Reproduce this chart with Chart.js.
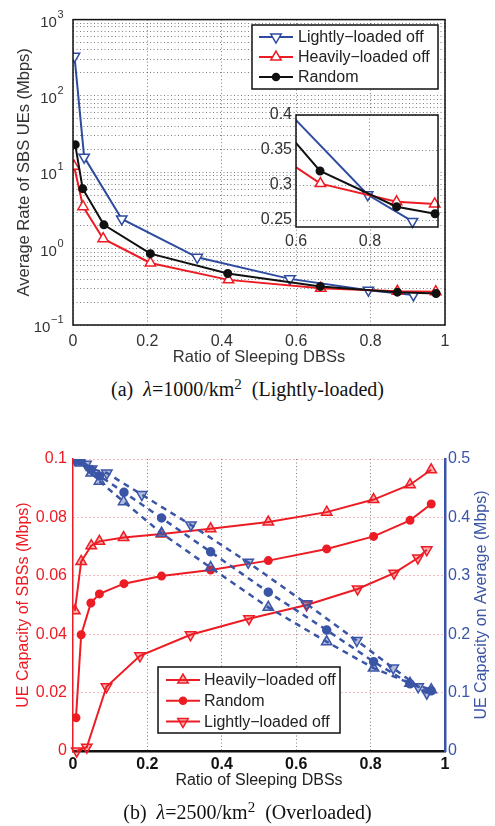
<!DOCTYPE html>
<html>
<head>
<meta charset="utf-8">
<script src="https://cdn.jsdelivr.net/npm/chart.js@4.4.1/dist/chart.umd.min.js"></script>
<style>
  body { margin: 0; background: #fff; width: 495px; height: 826px; position: relative; overflow: hidden; }
  canvas { position: absolute; }
  .cap { position: absolute; left: 0; width: 495px; text-align: center; font-family: "Liberation Serif", "DejaVu Serif", serif; font-size: 20px; color: #111; white-space: pre; }
  .cap sup { font-size: 15px; vertical-align: 7px; line-height: 0; }
</style>
</head>
<body>
<canvas id="chartA" width="495" height="372" style="left:0;top:0"></canvas>
<canvas id="inset" width="210" height="150" style="left:240px;top:100px"></canvas>
<div class="cap" style="top:378px">(a)  <i>λ</i>=1000/km<sup>2</sup>  (Lightly-loaded)</div>
<canvas id="chartB" width="495" height="380" style="left:0;top:420px"></canvas>
<div class="cap" style="top:801px">(b)  <i>λ</i>=2500/km<sup>2</sup>  (Overloaded)</div>
<script>
// ---- (a) lambda = 1000/km^2, average rate of SBS UEs (Mbps), log scale
const lightX_a = [0.004, 0.03, 0.131, 0.334, 0.583, 0.794, 0.915];
const lightY_a = [330, 15.8, 2.45, 0.77, 0.402, 0.286, 0.248];
const heavyX_a = [0.003, 0.027, 0.081, 0.208, 0.418, 0.666, 0.872, 0.975];
const heavyY_a = [12, 3.55, 1.35, 0.65, 0.39, 0.302, 0.276, 0.273];
const randX_a = [0.006, 0.026, 0.083, 0.208, 0.416, 0.665, 0.872, 0.976];
const randY_a = [23, 6.1, 2.05, 0.86, 0.473, 0.32, 0.269, 0.259];
const yTickVals_a = [0.1, 1, 10, 100, 1000];
const yTickExps_a = ['−1', '0', '1', '2', '3'];
const xTicks = [0, 0.2, 0.4, 0.6, 0.8, 1];
const insetXTicks = [0.6, 0.8];
const insetYTicks = [0.25, 0.3, 0.35, 0.4];

// ---- (b) lambda = 2500/km^2, red: UE capacity of SBSs, blue: UE capacity on average
const heavyX_b = [0.005, 0.022, 0.049, 0.071, 0.136, 0.238, 0.370, 0.525, 0.682, 0.808, 0.906, 0.963];
const heavyRed_b = [0.048, 0.0649, 0.0703, 0.0718, 0.0731, 0.0743, 0.0761, 0.0784, 0.0818, 0.0861, 0.0912, 0.0963];
const heavyBlue_b = [0.499, 0.493, 0.476, 0.462, 0.427, 0.373, 0.314, 0.246, 0.187, 0.142, 0.116, 0.105];
const randX_b = [0.008, 0.022, 0.048, 0.071, 0.137, 0.238, 0.370, 0.525, 0.682, 0.808, 0.906, 0.963];
const randRed_b = [0.0114, 0.0398, 0.0507, 0.0538, 0.0573, 0.0599, 0.062, 0.0652, 0.0692, 0.0735, 0.079, 0.0846];
const randBlue_b = [0.499, 0.496, 0.482, 0.471, 0.443, 0.399, 0.341, 0.272, 0.207, 0.153, 0.115, 0.103];
const lightRedX_b = [0.01, 0.037, 0.09, 0.18, 0.316, 0.473, 0.628, 0.765, 0.863, 0.927, 0.951];
const lightRed_b = [0, 0.0013, 0.022, 0.0326, 0.0398, 0.0453, 0.05, 0.0555, 0.0609, 0.0661, 0.0689];
const lightBlueX_b = [0.005, 0.035, 0.05, 0.091, 0.185, 0.317, 0.471, 0.628, 0.763, 0.861, 0.928, 0.951];
const lightBlue_b = [0.499, 0.491, 0.483, 0.476, 0.439, 0.387, 0.323, 0.252, 0.189, 0.142, 0.110, 0.099];
const leftTicks_b = [0, 0.02, 0.04, 0.06, 0.08, 0.1];
const rightTicks_b = [0, 0.1, 0.2, 0.3, 0.4, 0.5];

const RED = '#ed1c24';
const BLUE = '#2e4b9f';
const BLUE_B = '#3a55a6';
const SANS = '"Liberation Sans", Arial, sans-serif';

function pts(xs, ys) {
  return xs.map((x, i) => ({x: x, y: ys[i]}));
}
function setTicks(vals) {
  return scale => { scale.ticks = vals.map(v => ({value: v})); };
}
const plain = v => String(+v.toPrecision(6));

// white box legend drawn inside the axes, MATLAB style
const boxLegend = {
  id: 'boxLegend',
  afterDraw(chart, args, o) {
    if (!o.box) return;
    const ctx = chart.ctx, b = o.box;
    ctx.save();
    ctx.fillStyle = '#fff';
    ctx.fillRect(b.x, b.y, b.w, b.h);
    ctx.lineWidth = 1.5;
    ctx.strokeStyle = '#111';
    ctx.strokeRect(b.x, b.y, b.w, b.h);
    ctx.font = o.font;
    ctx.textBaseline = 'middle';
    o.items.forEach((di, i) => {
      const ds = chart.data.datasets[di];
      const yy = b.y + b.row0 + i * b.step;
      ctx.setLineDash([]);
      ctx.strokeStyle = ds.borderColor;
      ctx.lineWidth = ds.borderWidth;
      ctx.beginPath();
      ctx.moveTo(b.x + b.l0, yy);
      ctx.lineTo(b.x + b.l1, yy);
      ctx.stroke();
      ctx.fillStyle = ds.pointBackgroundColor;
      ctx.lineWidth = ds.pointBorderWidth || 1.5;
      Chart.helpers.drawPoint(ctx, {pointStyle: ds.pointStyle, rotation: ds.pointRotation || 0,
        radius: ds.pointRadius, borderWidth: ctx.lineWidth}, b.x + (b.l0 + b.l1) / 2, yy);
      ctx.fillStyle = '#222';
      ctx.fillText(ds.label, b.x + b.tx, yy + 1);
    });
    ctx.restore();
  }
};

const frame = {
  id: 'frame',
  beforeDraw(chart, args, o) {
    if (!o.fill) return;
    const a = chart.chartArea;
    chart.ctx.save();
    chart.ctx.fillStyle = o.fill;
    chart.ctx.fillRect(a.left, a.top, a.right - a.left, a.bottom - a.top);
    chart.ctx.restore();
  },
  afterDatasetsDraw(chart, args, o) {
    if (!o.box) return;
    const a = chart.chartArea, ctx = chart.ctx;
    ctx.save();
    ctx.strokeStyle = '#111';
    ctx.lineWidth = 1.5;
    ctx.strokeRect(a.left, a.top, a.right - a.left, a.bottom - a.top);
    ctx.restore();
  }
};

// "10" with a raised exponent for the log axis labels
const powerTicks = {
  id: 'powerTicks',
  afterDraw(chart, args, o) {
    if (!o.vals) return;
    const ctx = chart.ctx, sc = chart.scales.y;
    ctx.save();
    ctx.fillStyle = o.color;
    ctx.textBaseline = 'middle';
    ctx.textAlign = 'left';
    o.vals.forEach((v, i) => {
      const py = sc.getPixelForValue(v);
      ctx.font = '11px ' + SANS;
      const we = ctx.measureText(o.exps[i]).width;
      ctx.font = '15px ' + SANS;
      const wb = ctx.measureText('10').width;
      const x0 = o.right - we - wb;
      ctx.fillText('10', x0, py + 3);
      ctx.font = '11px ' + SANS;
      ctx.fillText(o.exps[i], x0 + wb + 0.5, py - 5);
    });
    ctx.restore();
  }
};

const sideTitle = {
  id: 'sideTitle',
  afterDraw(chart, args, o) {
    if (!o.text) return;
    const ctx = chart.ctx, a = chart.chartArea;
    ctx.save();
    ctx.translate(o.x, (a.top + a.bottom) / 2);
    ctx.rotate(-Math.PI / 2);
    ctx.font = o.font;
    ctx.fillStyle = o.color;
    ctx.textAlign = 'center';
    ctx.textBaseline = 'middle';
    ctx.fillText(o.text, 0, 0);
    ctx.restore();
  }
};

const dotGrid = 'rgba(0,0,0,0.5)';

function seriesA() {
  return [
    {label: 'Random', data: pts(randX_a, randY_a), borderColor: '#111', backgroundColor: '#111',
      pointBackgroundColor: '#111', pointStyle: 'circle', pointRadius: 3.5, borderWidth: 2},
    {label: 'Heavily−loaded off', data: pts(heavyX_a, heavyY_a), borderColor: RED, backgroundColor: RED,
      pointBackgroundColor: '#fff', pointStyle: 'triangle', pointRadius: 6, pointBorderWidth: 1.5, borderWidth: 2},
    {label: 'Lightly−loaded off', data: pts(lightX_a, lightY_a), borderColor: BLUE, backgroundColor: BLUE,
      pointBackgroundColor: '#fff', pointStyle: 'triangle', pointRotation: 180, pointRadius: 6, pointBorderWidth: 1.5, borderWidth: 2}
  ];
}

// log ticks 1..9 x 10^n for the minor dotted grid
const logGridA = [];
[0.1, 1, 10, 100].forEach(d => { for (let k = 1; k < 10; k++) logGridA.push(+(k * d).toPrecision(3)); });
logGridA.push(1000);

new Chart('chartA', {
  type: 'line',
  data: {datasets: seriesA()},
  plugins: [frame, boxLegend, powerTicks],
  options: {
    responsive: false, animation: false,
    layout: {padding: {top: 18, right: 50, left: 0, bottom: 0}},
    plugins: {
      legend: {display: false}, tooltip: {enabled: false},
      frame: {box: true},
      boxLegend: {box: {x: 252, y: 25, w: 186, h: 64, row0: 12, step: 20, l0: 7, l1: 41, tx: 46},
        items: [2, 1, 0], font: '16px ' + SANS},
      powerTicks: {vals: yTickVals_a, exps: yTickExps_a, right: 63, color: '#333'}
    },
    scales: {
      x: {
        type: 'linear', min: 0, max: 1,
        afterBuildTicks: setTicks(xTicks),
        afterFit: s => { s.height = 47; },
        grid: {color: dotGrid, drawTicks: false},
        border: {display: false, dash: [1, 2.5]},
        ticks: {padding: 7, color: '#333', font: {family: SANS, size: 16}, callback: plain},
        title: {display: true, text: 'Ratio of Sleeping DBSs', color: '#333',
          font: {family: SANS, size: 16.5}, padding: {top: 0, bottom: 5}}
      },
      y: {
        type: 'logarithmic', min: 0.1, max: 1000,
        afterBuildTicks: setTicks(logGridA),
        afterFit: s => { s.width = 73; },
        grid: {color: dotGrid, drawTicks: false},
        border: {display: false, dash: [1, 2.5]},
        ticks: {autoSkip: false, padding: 10, color: '#333', font: {family: SANS, size: 16},
          callback: () => ''},
        title: {display: true, text: 'Average Rate of SBS UEs (Mbps)', color: '#333',
          font: {family: SANS, size: 16.5}, padding: {top: 15, bottom: 0}}
      }
    }
  }
});

// zoomed inset of the tail
new Chart('inset', {
  type: 'line',
  data: {datasets: seriesA().map(d => Object.assign(d, {clip: {left: 0, top: 0, right: 8, bottom: 3}}))},
  plugins: [frame],
  options: {
    responsive: false, animation: false,
    layout: {padding: {top: 15, right: 12, left: 0, bottom: 0}},
    plugins: {legend: {display: false}, tooltip: {enabled: false}, frame: {box: true, fill: '#fff'}},
    scales: {
      x: {
        type: 'linear', min: 0.6, max: 0.984,
        afterBuildTicks: setTicks(insetXTicks),
        afterFit: s => { s.height = 23; },
        grid: {color: dotGrid, drawTicks: false},
        border: {display: false, dash: [1, 2.5]},
        ticks: {padding: 5, color: '#333', font: {family: SANS, size: 16}, callback: plain}
      },
      y: {
        type: 'linear', min: 0.24, max: 0.4,
        afterBuildTicks: setTicks(insetYTicks),
        afterFit: s => { s.width = 56; },
        grid: {color: dotGrid, drawTicks: false},
        border: {display: false, dash: [1, 2.5]},
        ticks: {padding: 4, color: '#333', font: {family: SANS, size: 16}, callback: plain}
      }
    }
  }
});

const redFill = 'rgba(237,28,36,0.35)';
const blueFill = 'rgba(58,85,166,0.4)';

new Chart('chartB', {
  type: 'line',
  data: {
    datasets: [
      {label: 'Heavily−loaded off', data: pts(heavyX_b, heavyBlue_b), yAxisID: 'y1', borderColor: BLUE_B,
        pointBackgroundColor: blueFill, pointStyle: 'triangle', pointRadius: 6, pointBorderWidth: 1.5,
        borderWidth: 2.5, borderDash: [6, 5]},
      {label: 'Random', data: pts(randX_b, randBlue_b), yAxisID: 'y1', borderColor: BLUE_B,
        pointBackgroundColor: BLUE_B, pointStyle: 'circle', pointRadius: 3.5, borderWidth: 2.5, borderDash: [6, 5]},
      {label: 'Lightly−loaded off', data: pts(lightBlueX_b, lightBlue_b), yAxisID: 'y1', borderColor: BLUE_B,
        pointBackgroundColor: blueFill, pointStyle: 'triangle', pointRotation: 180, pointRadius: 6,
        pointBorderWidth: 1.5, borderWidth: 2.5, borderDash: [6, 5]},
      {label: 'Heavily−loaded off', data: pts(heavyX_b, heavyRed_b), yAxisID: 'y', borderColor: RED,
        pointBackgroundColor: redFill, pointStyle: 'triangle', pointRadius: 6, pointBorderWidth: 1.5, borderWidth: 2},
      {label: 'Random', data: pts(randX_b, randRed_b), yAxisID: 'y', borderColor: RED,
        pointBackgroundColor: RED, pointStyle: 'circle', pointRadius: 3.5, borderWidth: 2},
      {label: 'Lightly−loaded off', data: pts(lightRedX_b, lightRed_b), yAxisID: 'y', borderColor: RED,
        pointBackgroundColor: redFill, pointStyle: 'triangle', pointRotation: 180, pointRadius: 6,
        pointBorderWidth: 1.5, borderWidth: 2, clip: false}
    ]
  },
  plugins: [boxLegend, sideTitle],
  options: {
    responsive: false, animation: false,
    layout: {padding: {top: 39, right: 0, left: 0, bottom: 0}},
    plugins: {
      legend: {display: false}, tooltip: {enabled: false},
      boxLegend: {box: {x: 158, y: 247, w: 182, h: 66, row0: 13, step: 20.8, l0: 8, l1: 42, tx: 46},
        items: [3, 4, 5], font: '16px ' + SANS},
      sideTitle: {text: 'UE Capacity on Average (Mbps)', x: 482, color: BLUE_B, font: '16px ' + SANS}
    },
    scales: {
      x: {
        type: 'linear', min: 0, max: 1,
        afterBuildTicks: setTicks(xTicks),
        afterFit: s => { s.height = 49; },
        grid: {color: c => (c.tick && (c.tick.value === 0 || c.tick.value === 1)) ? 'rgba(0,0,0,0)' : dotGrid,
          drawTicks: false},
        border: {display: true, color: '#111', width: 2.5, dash: [1, 2.5]},
        ticks: {padding: 4, color: '#111', font: {family: SANS, size: 16, weight: 'bold'}, callback: plain},
        title: {display: true, text: 'Ratio of Sleeping DBSs', color: '#222',
          font: {family: SANS, size: 16}, padding: {top: 0, bottom: 10}}
      },
      y: {
        type: 'linear', position: 'left', min: 0, max: 0.1,
        afterBuildTicks: setTicks(leftTicks_b),
        afterFit: s => { s.width = 73; },
        grid: {color: c => (c.tick && c.tick.value === 0) ? 'rgba(0,0,0,0)' : 'rgba(237,28,36,0.6)',
          drawTicks: false},
        border: {display: true, color: RED, width: 1.5, dash: [1, 3]},
        ticks: {padding: 6, color: RED, font: {family: SANS, size: 16}, callback: plain},
        title: {display: true, text: 'UE Capacity of SBSs (Mbps)', color: RED,
          font: {family: SANS, size: 16}, padding: {top: 14, bottom: 0}}
      },
      y1: {
        type: 'linear', position: 'right', min: 0, max: 0.5,
        afterBuildTicks: setTicks(rightTicks_b),
        afterFit: s => { s.width = 50; },
        grid: {drawOnChartArea: false, drawTicks: false},
        border: {display: true, color: BLUE_B, width: 2.5},
        ticks: {padding: 3, color: BLUE_B, font: {family: SANS, size: 16}, callback: plain}
      }
    }
  }
});
</script>
</body>
</html>
